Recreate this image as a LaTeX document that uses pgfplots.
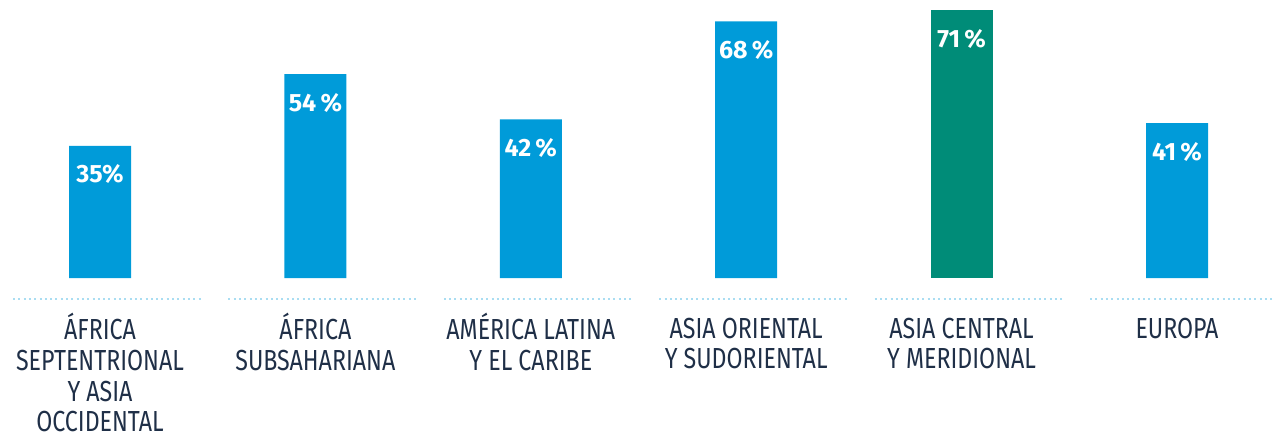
\documentclass[border=0pt]{standalone}
\usepackage{pgfplots}
\pgfplotsset{compat=1.18}
\usepackage{fontspec}
\setmainfont{Fira Sans}
\newfontfamily\lbl[FakeStretch=0.8]{Fira Sans}
\definecolor{barblue}{HTML}{009BD9}
\definecolor{bargreen}{HTML}{008C78}
\definecolor{dotblue}{HTML}{A9DDF2}
\definecolor{txt}{HTML}{1F2F47}
\newcommand\T{\rule{0pt}{25pt}}
\begin{document}
\begin{tikzpicture}
\begin{axis}[
    name=ax,
    scale only axis,
    width=1272pt, height=278pt,
    xmin=-0.4643, xmax=5.441,
    ymin=0, ymax=73.65,
    axis line style={draw=none},
    ytick=\empty,
    xtick={0,...,5},
    xticklabels={{\T ÁFRICA\\SEPTENTRIONAL\\Y ASIA\\OCCIDENTAL},{\T ÁFRICA\\SUBSAHARIANA},{\T AMÉRICA LATINA\\Y EL CARIBE},{\T ASIA ORIENTAL\\Y SUDORIENTAL},{\T ASIA CENTRAL\\Y MERIDIONAL},{\T EUROPA}},
    xticklabel style={font=\lbl\fontsize{29}{30.7}\selectfont, text=txt, align=center, anchor=north, inner sep=0pt, yshift=-35pt},
    major tick length=0pt,
    clip=false,
    ybar, bar width=62pt, bar shift=0pt,
    point meta=explicit symbolic,
    nodes near coords,
    nodes near coords style={font=\bfseries\fontsize{25}{25}\selectfont, text=white, anchor=base, yshift=-37pt},
]
\addplot[fill=barblue, draw=none] coordinates {(0,35)[35\%] (1,54)[54\,\%] (2,42)[42\,\%] (3,68)[68\,\%] (5,41)[41\,\%]};
\addplot[fill=bargreen, draw=none] coordinates {(4,71)[71\,\%]};
\pgfplotsinvokeforeach{0,...,5}{
  \draw[dotblue, line width=2pt, dash pattern=on 2pt off 3.3pt]
    ([xshift=-87pt,yshift=-21pt]axis cs:#1,0) -- ([xshift=102pt,yshift=-21pt]axis cs:#1,0);
}
\end{axis}
\pgfresetboundingbox
\path (ax.south west) ++(0,-161pt) rectangle (ax.north east);
\end{tikzpicture}
\end{document}
